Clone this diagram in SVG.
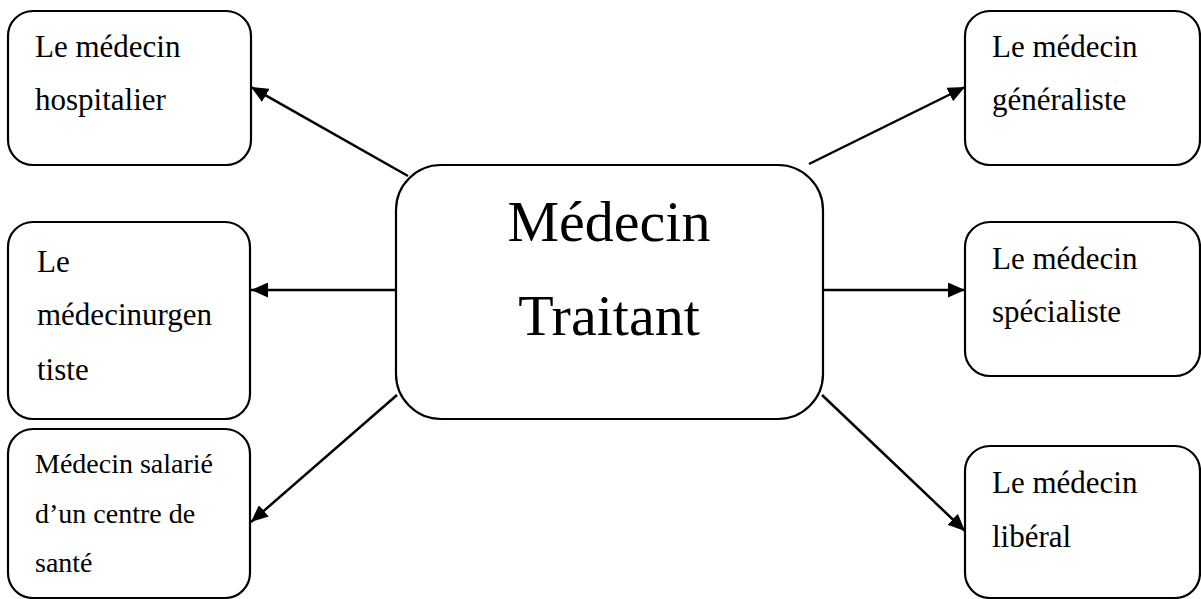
<svg xmlns="http://www.w3.org/2000/svg" width="1201" height="599" viewBox="0 0 1201 599">
<style>
.box{fill:#fff;stroke:#000;stroke-width:2.2}
.t{font-family:"Liberation Serif","Times New Roman",serif;fill:#000}
.s31{font-size:31px}
.s28{font-size:28px}
.big{font-size:58px;text-anchor:middle}
.c{stroke:#000;stroke-width:2.5;fill:none;marker-end:url(#ah)}
</style>
<defs>
<marker id="ah" markerUnits="userSpaceOnUse" markerWidth="17" markerHeight="15" refX="17" refY="7.5" orient="auto">
<path d="M0,0 L17,7.5 L0,15 z" fill="#000"/>
</marker>
</defs>
<rect width="1201" height="599" fill="#fff"/>
<g id="connectors">
<line class="c" x1="408" y1="176" x2="251" y2="87"/>
<line class="c" x1="809" y1="164" x2="965" y2="87"/>
<line class="c" x1="396" y1="290" x2="251" y2="290"/>
<line class="c" x1="823" y1="290" x2="965" y2="290"/>
<line class="c" x1="397" y1="395" x2="251" y2="522"/>
<line class="c" x1="822" y1="395" x2="965" y2="531"/>
</g>
<g id="center">
<rect class="box" x="396" y="165" width="427" height="254" rx="45" ry="45"/>
<text class="t big" x="609" y="241">Médecin</text>
<text class="t big" x="609" y="335">Traitant</text>
</g>
<g id="hospitalier">
<rect class="box" x="8" y="11" width="243" height="154" rx="25" ry="25"/>
<text class="t s31" x="35" y="57">Le médecin</text>
<text class="t s31" x="35" y="110">hospitalier</text>
</g>
<g id="urgentiste">
<rect class="box" x="8" y="222" width="242" height="197" rx="25" ry="25"/>
<text class="t s31" x="37" y="272">Le</text>
<text class="t s31" x="37" y="325">médecinurgen</text>
<text class="t s31" x="37" y="380">tiste</text>
</g>
<g id="salarie">
<rect class="box" x="8" y="429" width="242" height="169" rx="25" ry="25"/>
<text class="t s28" x="35" y="473">Médecin salarié</text>
<text class="t s28" x="35" y="523">d’un centre de</text>
<text class="t s28" x="35" y="572">santé</text>
</g>
<g id="generaliste">
<rect class="box" x="965" y="11" width="235" height="154" rx="25" ry="25"/>
<text class="t s31" x="992" y="57">Le médecin</text>
<text class="t s31" x="992" y="110">généraliste</text>
</g>
<g id="specialiste">
<rect class="box" x="965" y="222" width="235" height="154" rx="25" ry="25"/>
<text class="t s31" x="992" y="269">Le médecin</text>
<text class="t s31" x="992" y="322">spécialiste</text>
</g>
<g id="liberal">
<rect class="box" x="965" y="446" width="235" height="152" rx="25" ry="25"/>
<text class="t s31" x="992" y="493">Le médecin</text>
<text class="t s31" x="992" y="547">libéral</text>
</g>
</svg>
